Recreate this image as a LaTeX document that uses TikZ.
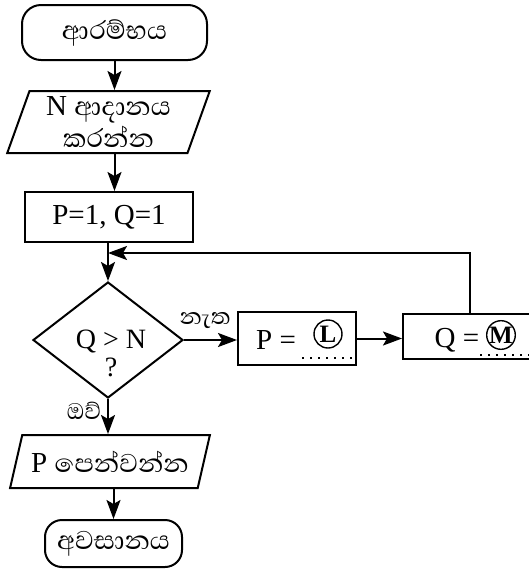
\documentclass[tikz,border=0pt]{standalone}
\usepackage{fontspec}
\setmainfont{Liberation Serif}
\newfontfamily\si[Script=Sinhala]{Abhaya Libre}
\usetikzlibrary{shapes.geometric,arrows.meta}
\begin{document}
\begin{tikzpicture}[x=1pt,y=-1pt,
  ln/.style={line width=2pt},
  arr/.style={ln,-{Stealth[length=19pt,width=14pt,inset=4pt]}},
  term/.style={draw,ln,rounded corners=19pt,inner sep=0pt},
  io/.style={draw,ln,trapezium,trapezium stretches=true,inner sep=0pt},
  proc/.style={draw,ln,rectangle,inner sep=0pt},
  dec/.style={draw,ln,diamond,inner sep=0pt},
  lat/.style={font=\fontsize{29}{29}\selectfont,inner sep=0pt},
  sin/.style={font=\si\fontsize{33}{36}\selectfont,inner sep=0pt},
  sinl/.style={font=\si\fontsize{29}{30}\selectfont,inner sep=0pt},
  circ/.style={draw,circle,line width=1.4pt,minimum size=28pt,inner sep=0pt,font=\bfseries\fontsize{25}{25}\selectfont},
  dots/.style={line width=2pt,dash pattern=on 2pt off 6pt}
]
\clip (0,0) rectangle (529,571);
\useasboundingbox (0,0) rectangle (529,571);
% nodes
\node[term,minimum width=185pt,minimum height=55pt,sin] (start) at (114.5,32.5) {ආරම්භය};
\node[io,trapezium left angle=71,trapezium right angle=109,minimum width=203pt,minimum height=62pt,align=center,font=\fontsize{29}{32}\selectfont] (inp) at (108.5,122) {N {\si\fontsize{33}{32}\selectfont ආදානය}\\{\si\fontsize{33}{32}\selectfont කරන්න}};
\node[proc,minimum width=168pt,minimum height=50pt,lat] (init) at (109,217) {P=1, Q=1};
\node[dec,minimum width=150pt,minimum height=116pt] (cond) at (108,340) {};
\node[lat,align=center,font=\fontsize{28}{28}\selectfont] (condt) at (111,353) {Q > N\\?};
\node[proc,minimum width=118pt,minimum height=53pt] (pbox) at (297,338.5) {};
\node[lat] (pt) at (276,340) {P =};
\node[circ] (cL) at (328,334) {L};
\node[proc,minimum width=142pt,minimum height=45pt] (qbox) at (474,336.5) {};
\node[lat] (qt) at (457,340) {Q =};
\node[circ] (cM) at (501,335) {M};
\node[io,trapezium left angle=63,trapezium right angle=117,minimum width=200pt,minimum height=53pt,font=\fontsize{29}{29}\selectfont] (outp) at (110,461.5) {P {\si\fontsize{33}{32}\selectfont පෙන්වන්න}};
\node[term,minimum width=137pt,minimum height=47pt,rounded corners=17pt,sin] (stop) at (113.5,543.5) {අවසානය};
% labels
\node[sinl] (no) at (205,321) {නැත};
\node[sinl] (yes) at (84,411) {ඔව්};
% dotted blanks
\draw[dots] (302,358) -- (354,358);
\draw[dots] (480,355) -- (529,355);
% connectors
\draw[arr] (start.south) -- (start.south |- inp.north);
\draw[arr] (start.south |- inp.south) -- (start.south |- init.north);
\draw[arr] (cond.north |- init.south) -- (cond.north);
\draw[arr] (cond.east) -- (cond.east -| pbox.west);
\draw[arr] (pbox.east) -- (pbox.east -| qbox.west);
\coordinate (lp) at (470,253);
\draw[arr] (lp |- qbox.north) -- (lp) -- (lp -| cond.north);
\draw[arr] (cond.south) -- (cond.south |- outp.north);
\draw[arr] (stop.north |- outp.south) -- (stop.north);
\end{tikzpicture}
\end{document}
